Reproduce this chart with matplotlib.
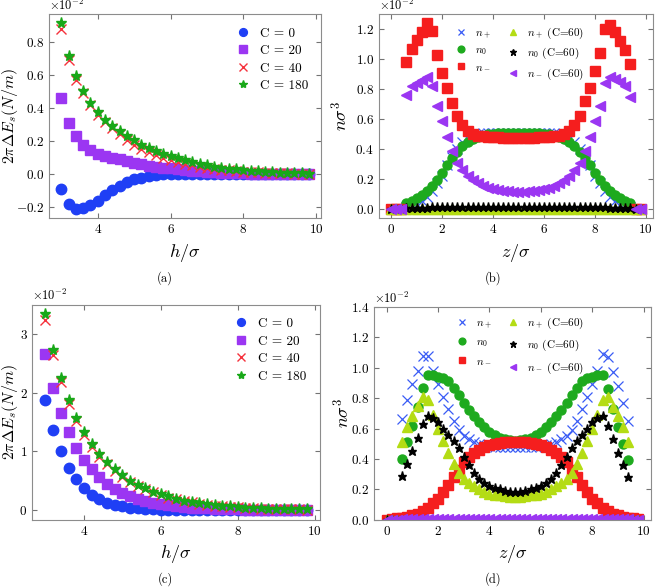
import numpy as np
import matplotlib
matplotlib.use("Agg")
from matplotlib import pyplot as plt
from matplotlib.ticker import MultipleLocator

plt.rcParams['font.family'] = 'serif'
plt.rcParams['font.serif'] = ['cmr10', 'DejaVu Serif']
plt.rcParams['mathtext.fontset'] = 'cm'
plt.rcParams['axes.formatter.use_mathtext'] = True
plt.rcParams['axes.unicode_minus'] = True

# ---- panels (a) and (c): separation h/sigma ----
h = np.round(np.arange(3.0, 9.81, 0.2), 1)
labels_c = ["C = 0", "C = 20", "C = 40", "C = 180"]

# values in units of 1e-2
a_c0 = [-0.09, -0.18, -0.21, -0.205, -0.185, -0.16, -0.125, -0.095, -0.07, -0.05,
        -0.03, -0.02, -0.01, -0.004, 0.0, 0.002, 0.002, 0.002, 0.002, 0.001,
        0.001, 0.001, 0.001, 0.0, 0.0, 0.0, 0.0, 0.0, 0.0, 0.0,
        0.0, 0.0, 0.0, 0.0, 0.0]
a_c20 = [0.46, 0.31, 0.23, 0.18, 0.15, 0.125, 0.11, 0.10, 0.09, 0.08,
         0.07, 0.06, 0.052, 0.045, 0.04, 0.035, 0.03, 0.025, 0.021, 0.018,
         0.015, 0.012, 0.01, 0.008, 0.007, 0.005, 0.004, 0.003, 0.003, 0.002,
         0.002, 0.001, 0.001, 0.001, 0.0]
a_c40 = [0.88, 0.69, 0.57, 0.49, 0.42, 0.36, 0.315, 0.28, 0.245, 0.21,
         0.18, 0.155, 0.135, 0.115, 0.10, 0.085, 0.075, 0.065, 0.055, 0.046,
         0.04, 0.033, 0.028, 0.023, 0.019, 0.016, 0.013, 0.011, 0.009, 0.007,
         0.006, 0.005, 0.004, 0.003, 0.003]
a_c180 = [0.915, 0.72, 0.595, 0.505, 0.435, 0.375, 0.33, 0.29, 0.26, 0.23,
          0.205, 0.18, 0.16, 0.14, 0.125, 0.11, 0.097, 0.085, 0.075, 0.064,
          0.055, 0.047, 0.04, 0.034, 0.029, 0.025, 0.021, 0.017, 0.014, 0.012,
          0.01, 0.008, 0.006, 0.005, 0.004]

c_c0 = [1.87, 1.37, 1.0, 0.72, 0.52, 0.37, 0.26, 0.18, 0.12, 0.085,
        0.06, 0.04, 0.03, 0.02, 0.013, 0.008, 0.005, 0.003, 0.002, 0.001,
        0.001, 0.001, 0.0, 0.0, 0.0, 0.0, 0.0, 0.0, 0.0, 0.0,
        0.0, 0.0, 0.0, 0.0, 0.0]
c_c20 = [2.65, 2.07, 1.65, 1.32, 1.05, 0.85, 0.69, 0.56, 0.45, 0.36,
         0.29, 0.23, 0.19, 0.15, 0.12, 0.10, 0.08, 0.065, 0.05, 0.04,
         0.032, 0.026, 0.02, 0.016, 0.013, 0.01, 0.008, 0.006, 0.005, 0.004,
         0.003, 0.002, 0.002, 0.001, 0.001]
c_c40 = [3.23, 2.64, 2.18, 1.81, 1.51, 1.27, 1.07, 0.91, 0.78, 0.66,
         0.56, 0.48, 0.41, 0.35, 0.30, 0.25, 0.21, 0.18, 0.15, 0.13,
         0.11, 0.09, 0.075, 0.063, 0.052, 0.043, 0.036, 0.03, 0.025, 0.02,
         0.017, 0.014, 0.011, 0.009, 0.007]
c_c180 = [3.33, 2.72, 2.25, 1.87, 1.57, 1.32, 1.12, 0.95, 0.81, 0.69,
          0.59, 0.50, 0.43, 0.37, 0.31, 0.27, 0.23, 0.19, 0.16, 0.14,
          0.12, 0.10, 0.085, 0.072, 0.06, 0.05, 0.042, 0.035, 0.03, 0.025,
          0.021, 0.017, 0.014, 0.012, 0.01]

# ---- panels (b) and (d): density profiles ----
z = np.round(np.arange(0.0, 9.81, 0.2), 1)
wall_l = [0.0, 0.0, 0.0]   # z = 0.0 .. 0.4
wall_r = [0.0, 0.0]        # z = 9.6 .. 9.8
labels_n = [r"$n_+$", r"$n_0$", r"$n_-$",
            r"$n_+$ (C=60)", r"$n_0$ (C=60)", r"$n_-$ (C=60)"]

# inner values z = 0.6 .. 9.4, units of 1e-2
b_np = [0.01, 0.02, 0.035, 0.055, 0.08, 0.12, 0.17, 0.22, 0.29, 0.35,
        0.40, 0.45, 0.47, 0.49, 0.50, 0.505, 0.51, 0.51, 0.51, 0.51,
        0.51, 0.51, 0.51, 0.51, 0.51, 0.51, 0.51, 0.51, 0.51, 0.505,
        0.50, 0.49, 0.47, 0.45, 0.40, 0.35, 0.29, 0.22, 0.17, 0.12,
        0.08, 0.055, 0.035, 0.02, 0.01]
b_n0 = [0.04, 0.05, 0.07, 0.09, 0.12, 0.15, 0.19, 0.24, 0.29, 0.34,
        0.38, 0.42, 0.45, 0.47, 0.48, 0.49, 0.50, 0.50, 0.505, 0.505,
        0.51, 0.51, 0.51, 0.51, 0.51, 0.505, 0.505, 0.50, 0.50, 0.49,
        0.48, 0.47, 0.45, 0.42, 0.38, 0.34, 0.29, 0.24, 0.19, 0.15,
        0.12, 0.09, 0.07, 0.05, 0.04]
b_nm = [0.98, 1.07, 1.13, 1.18, 1.24, 1.19, 1.03, 0.91, 0.81, 0.71,
        0.62, 0.56, 0.52, 0.50, 0.49, 0.485, 0.48, 0.48, 0.478, 0.477,
        0.476, 0.476, 0.476, 0.476, 0.476, 0.477, 0.478, 0.48, 0.48, 0.485,
        0.49, 0.50, 0.52, 0.56, 0.62, 0.72, 0.81, 0.92, 1.04, 1.20,
        1.23, 1.18, 1.12, 1.06, 0.97]
b_np60 = [0.0, 0.001, 0.001, 0.001, 0.001, 0.001, 0.001, 0.001, 0.001, 0.001,
          0.001, 0.001, 0.001, 0.001, 0.001, 0.001, 0.001, 0.001, 0.001, 0.001,
          0.001, 0.001, 0.001, 0.001, 0.001, 0.001, 0.001, 0.001, 0.001, 0.001,
          0.001, 0.001, 0.001, 0.001, 0.001, 0.001, 0.001, 0.001, 0.001, 0.001,
          0.001, 0.001, 0.001, 0.001, 0.0]
b_n060 = [0.006, 0.007, 0.008, 0.009, 0.009, 0.01, 0.01, 0.01, 0.01, 0.01,
          0.01, 0.01, 0.01, 0.01, 0.01, 0.01, 0.01, 0.01, 0.01, 0.01,
          0.01, 0.01, 0.01, 0.01, 0.01, 0.01, 0.01, 0.01, 0.01, 0.01,
          0.01, 0.01, 0.01, 0.01, 0.01, 0.01, 0.01, 0.01, 0.01, 0.01,
          0.009, 0.009, 0.008, 0.007, 0.006]
b_nm60 = [0.76, 0.82, 0.84, 0.86, 0.88, 0.82, 0.69, 0.59, 0.48, 0.39,
          0.31, 0.26, 0.22, 0.19, 0.17, 0.155, 0.14, 0.13, 0.125, 0.12,
          0.117, 0.115, 0.115, 0.115, 0.117, 0.12, 0.125, 0.13, 0.14, 0.155,
          0.17, 0.19, 0.22, 0.26, 0.31, 0.39, 0.48, 0.59, 0.69, 0.84,
          0.88, 0.87, 0.85, 0.82, 0.75]

d_np = [0.66, 0.79, 0.89, 0.98, 1.08, 1.08, 0.98, 0.89, 0.81, 0.73,
        0.65, 0.59, 0.55, 0.53, 0.51, 0.50, 0.49, 0.485, 0.48, 0.48,
        0.48, 0.48, 0.48, 0.48, 0.48, 0.48, 0.48, 0.485, 0.49, 0.50,
        0.51, 0.53, 0.55, 0.59, 0.65, 0.73, 0.81, 0.89, 0.98, 1.09,
        1.07, 0.97, 0.88, 0.77, 0.65]
d_n0 = [0.40, 0.51, 0.62, 0.74, 0.87, 0.95, 0.95, 0.94, 0.93, 0.91,
        0.87, 0.82, 0.77, 0.72, 0.68, 0.64, 0.61, 0.58, 0.56, 0.54,
        0.53, 0.525, 0.52, 0.525, 0.53, 0.54, 0.56, 0.58, 0.61, 0.64,
        0.68, 0.72, 0.77, 0.82, 0.87, 0.91, 0.93, 0.94, 0.95, 0.95,
        0.86, 0.73, 0.61, 0.50, 0.39]
d_nm = [0.015, 0.02, 0.03, 0.04, 0.06, 0.08, 0.11, 0.14, 0.18, 0.23,
        0.28, 0.33, 0.38, 0.41, 0.44, 0.46, 0.48, 0.49, 0.50, 0.505,
        0.51, 0.51, 0.51, 0.51, 0.51, 0.505, 0.50, 0.49, 0.48, 0.46,
        0.44, 0.41, 0.38, 0.33, 0.28, 0.23, 0.18, 0.14, 0.11, 0.08,
        0.06, 0.04, 0.03, 0.02, 0.015]
d_nm_wall_l = [0.0, 0.005, 0.01]
d_nm_wall_r = [0.01, 0.005]
d_np60 = [0.51, 0.61, 0.68, 0.75, 0.81, 0.79, 0.69, 0.60, 0.52, 0.44,
          0.37, 0.31, 0.27, 0.24, 0.22, 0.20, 0.18, 0.17, 0.165, 0.16,
          0.155, 0.15, 0.15, 0.15, 0.155, 0.16, 0.165, 0.17, 0.18, 0.20,
          0.22, 0.24, 0.27, 0.31, 0.37, 0.44, 0.52, 0.60, 0.69, 0.79,
          0.81, 0.74, 0.68, 0.61, 0.51]
d_n060 = [0.29, 0.37, 0.45, 0.54, 0.63, 0.68, 0.67, 0.64, 0.60, 0.56,
          0.52, 0.47, 0.41, 0.36, 0.31, 0.27, 0.24, 0.22, 0.21, 0.20,
          0.19, 0.18, 0.18, 0.18, 0.19, 0.20, 0.21, 0.22, 0.24, 0.27,
          0.31, 0.36, 0.41, 0.47, 0.52, 0.56, 0.60, 0.64, 0.67, 0.68,
          0.62, 0.53, 0.44, 0.36, 0.28]
d_nm60 = [0.004, 0.005, 0.005, 0.005, 0.005, 0.005, 0.005, 0.005, 0.005, 0.005,
          0.005, 0.005, 0.005, 0.005, 0.005, 0.005, 0.005, 0.005, 0.005, 0.005,
          0.005, 0.005, 0.005, 0.005, 0.005, 0.005, 0.005, 0.005, 0.005, 0.005,
          0.005, 0.005, 0.005, 0.005, 0.005, 0.005, 0.005, 0.005, 0.005, 0.005,
          0.005, 0.005, 0.005, 0.005, 0.004]


def pad(vals, left=wall_l, right=wall_r):
    return np.array(left + vals + right) * 1e-2


c_styles = [dict(marker='o', color='#1f3ff5', ms=7.5, ls='none'),
            dict(marker='s', color='#9b36f2', ms=7, ls='none'),
            dict(marker='x', color='#f5323c', ms=7, mew=1.0, ls='none'),
            dict(marker='*', color='#18a818', ms=8, ls='none')]
n_styles = [dict(marker='x', color='#3a5cf5', ms=6.5, mew=0.9, ls='none'),
            dict(marker='o', color='#1eaa1e', ms=6.5, ls='none'),
            dict(marker='s', color='#f51e1e', ms=6.5, ls='none'),
            dict(marker='^', color='#b4dc14', ms=6.5, ls='none'),
            dict(marker='*', color='black', ms=6.5, ls='none'),
            dict(marker='<', color='#9b36f2', ms=6.5, ls='none')]


def style_axes(ax):
    for s in ax.spines.values():
        s.set_color('0.55')
    ax.tick_params(direction='in', top=True, right=True, color='0.45',
                   labelsize=9.5, length=3.5)
    ax.ticklabel_format(axis='y', style='sci', scilimits=(-2, -2))
    ax.yaxis.get_offset_text().set_fontsize(9)


fig = plt.figure(figsize=(6.61, 5.88), dpi=100)
ax_a = fig.add_axes([0.074, 0.629, 0.412, 0.347])
ax_b = fig.add_axes([0.573, 0.629, 0.415, 0.347])
ax_c = fig.add_axes([0.049, 0.116, 0.435, 0.366])
ax_d = fig.add_axes([0.566, 0.116, 0.419, 0.362])

for ax, series in [(ax_a, [a_c0, a_c20, a_c40, a_c180]),
                   (ax_c, [c_c0, c_c20, c_c40, c_c180])]:
    for vals, lab, st in zip(series, labels_c, c_styles):
        ax.plot(h, np.array(vals) * 1e-2, label=lab, **st)
    style_axes(ax)
    ax.xaxis.set_major_locator(MultipleLocator(2))
    ax.set_xlabel(r"$h/\sigma$", fontsize=13)
    ax.set_ylabel(r"$2\pi\Delta E_s(N/m)$", fontsize=11.5, va='center')
    ax.legend(loc='upper right', frameon=False, fontsize=9.5, markerscale=0.75,
              handletextpad=0.3, labelspacing=0.4, borderaxespad=0.6)

ax_a.yaxis.set_major_locator(MultipleLocator(0.002))
ax_c.yaxis.set_major_locator(MultipleLocator(0.01))
ax_a.yaxis.set_label_coords(-0.143, 0.5)
ax_c.yaxis.set_label_coords(-0.078, 0.5)

b_series = [pad(b_np), pad(b_n0), pad(b_nm), pad(b_np60), pad(b_n060), pad(b_nm60)]
d_series = [pad(d_np), pad(d_n0), pad(d_nm, d_nm_wall_l, d_nm_wall_r),
            pad(d_np60), pad(d_n060), pad(d_nm60)]

for ax, series in [(ax_b, b_series), (ax_d, d_series)]:
    for vals, lab, st in zip(series, labels_n, n_styles):
        ax.plot(z, vals, label=lab, **st)
    style_axes(ax)
    ax.xaxis.set_major_locator(MultipleLocator(2))
    ax.yaxis.set_major_locator(MultipleLocator(0.002))
    ax.set_xlabel(r"$z/\sigma$", fontsize=13)
    ax.set_ylabel(r"$n\sigma^3$", fontsize=13, va='center')

ax_b.yaxis.set_label_coords(-0.142, 0.5)
ax_d.yaxis.set_label_coords(-0.116, 0.5)

leg_kw = dict(loc='upper center', ncol=2, frameon=False, fontsize=8,
              markerscale=0.75, handlelength=1.0, handletextpad=0.75,
              columnspacing=1.45, borderaxespad=0.0)
ax_b.legend(bbox_to_anchor=(0.514, 0.965), labelspacing=0.45, **leg_kw)
ax_d.set_ylim(0, 0.014)
ax_d.legend(bbox_to_anchor=(0.527, 0.98), labelspacing=0.65, **leg_kw)

for x, y, t in [(0.25, 0.515, "(a)"), (0.746, 0.515, "(b)"),
                (0.25, 0.003, "(c)"), (0.746, 0.003, "(d)")]:
    fig.text(x, y, t, ha='center', va='bottom', fontsize=9)

plt.savefig("out.png", dpi=100)
